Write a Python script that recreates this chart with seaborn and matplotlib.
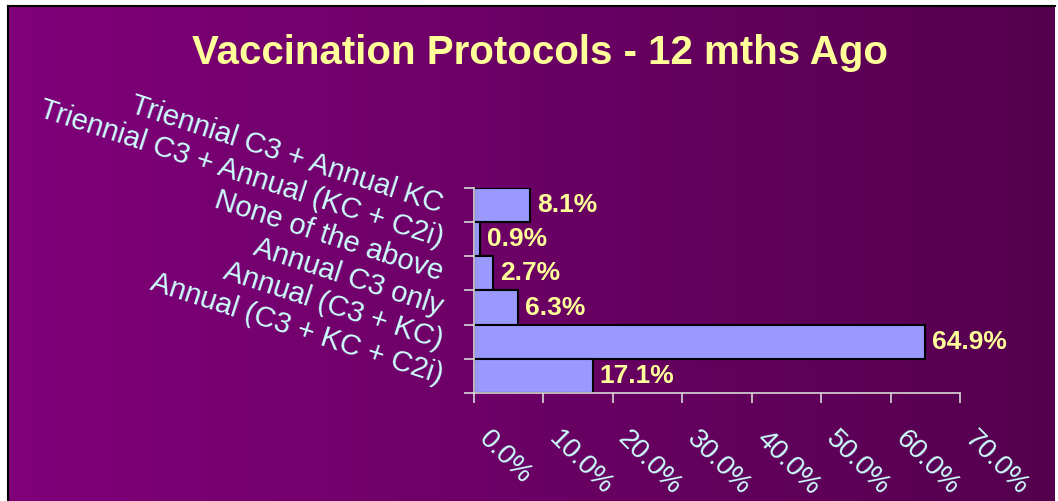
import numpy as np
import pandas as pd
import matplotlib
matplotlib.use('Agg')
import matplotlib.pyplot as plt
import matplotlib.transforms as mtransforms
from matplotlib.colors import LinearSegmentedColormap
import seaborn as sns

# Survey data: share of practices using each vaccination protocol
categories = [
    'Triennial C3 + Annual KC',
    'Triennial C3 + Annual (KC + C2i)',
    'None of the above',
    'Annual C3 only',
    'Annual (C3 + KC)',
    'Annual (C3 + KC + C2i)',
]
percentages = [8.1, 0.9, 2.7, 6.3, 64.9, 17.1]
x_ticks = [0, 10, 20, 30, 40, 50, 60, 70]
x_tick_labels = ['0.0%', '10.0%', '20.0%', '30.0%', '40.0%', '50.0%', '60.0%', '70.0%']

df = pd.DataFrame({'Protocol': categories, 'Percent': percentages})

sns.set_theme(style='white')
plt.rcParams['font.family'] = ['Liberation Sans', 'DejaVu Sans']

W, H = 1058, 501
fig = plt.figure(figsize=(W / 100, H / 100), dpi=100)
fig.patch.set_facecolor('white')

# purple gradient slide background
bg = fig.add_axes([8 / W, 0, 1047 / W, 495 / H], zorder=0)
grad = np.linspace(0, 1, 256).reshape(1, -1)
cmap = LinearSegmentedColormap.from_list('slide', ['#80007a', '#55004f'])
bg.imshow(grad, aspect='auto', cmap=cmap, extent=[0, 1, 0, 1])
bg.set_xticks([])
bg.set_yticks([])
for side in ['right', 'bottom']:
    bg.spines[side].set_visible(False)
for side in ['top', 'left']:
    bg.spines[side].set_color('black')
    bg.spines[side].set_linewidth(1.5)

# bar chart
ax = fig.add_axes([474 / W, 1 - 393 / H, 486 / W, 205 / H], zorder=1)
ax.patch.set_alpha(0)
sns.barplot(data=df, x='Percent', y='Protocol', orient='h', color='#9999ff',
            saturation=1, edgecolor='black', linewidth=1.5, width=1.0, ax=ax)

ax.set_xlim(0, 70)
ax.set_ylim(5.5, -0.5)
ax.set_xlabel('')
ax.set_ylabel('')

for side in ['top', 'right']:
    ax.spines[side].set_visible(False)
for side in ['left', 'bottom']:
    ax.spines[side].set_color('#d8d8d8')
    ax.spines[side].set_linewidth(1.2)

# y: labels at centres, tick marks at band boundaries
ax.set_yticks(range(len(categories)))
ax.set_yticklabels(categories, rotation=-18, ha='right', va='center',
                   rotation_mode='anchor', color='#ccffff', fontsize=21)
ax.set_yticks(np.arange(-0.5, len(categories), 1), minor=True)
ax.tick_params(axis='y', which='major', length=0, pad=23, left=True)
ax.tick_params(axis='y', which='minor', length=7, width=1.2, color='#d8d8d8',
               direction='out', left=True)

# x ticks
ax.set_xticks(x_ticks)
ax.set_xticklabels(x_tick_labels, rotation=-45, ha='left', va='center',
                   rotation_mode='anchor', color='#ccffff', fontsize=20)
ax.tick_params(axis='x', which='major', length=7, width=1.2, color='#d8d8d8',
               direction='out', bottom=True, pad=23)
shift = mtransforms.ScaledTranslation(0.09, 0, fig.dpi_scale_trans)
for lbl in ax.get_xticklabels():
    lbl.set_transform(lbl.get_transform() + shift)

# value labels
ax.bar_label(ax.containers[0], labels=[f'{v:.1f}%' for v in percentages],
             padding=5, color='#ffff99', fontsize=19, fontweight='bold')

fig.text(540 / W, 1 - 53 / H, 'Vaccination Protocols - 12 mths Ago',
         ha='center', va='center', color='#ffff99', fontsize=29, fontweight='bold')

fig.savefig('out.png', dpi=100)
